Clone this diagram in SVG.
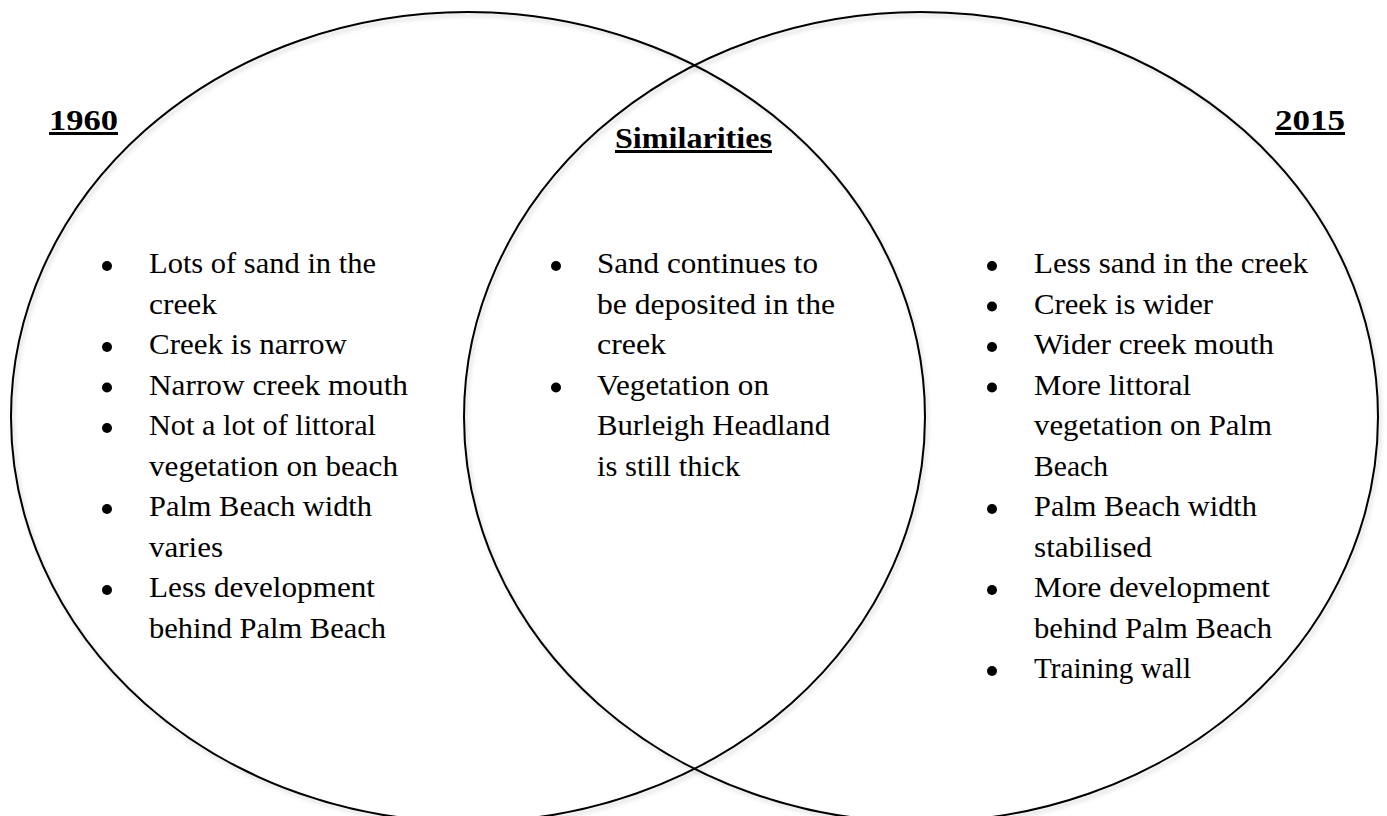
<svg xmlns="http://www.w3.org/2000/svg" width="1387" height="816" viewBox="0 0 1387 816">
  <defs>
    <filter id="shadow" x="-5%" y="-5%" width="110%" height="110%">
      <feDropShadow dx="2" dy="3" stdDeviation="2" flood-color="#000" flood-opacity="0.18"/>
    </filter>
  </defs>
  <style>
    .ring { fill: none; stroke: #000; stroke-width: 2; }
    .item { font-family: "Liberation Serif", "DejaVu Serif", serif; font-size: 30px; fill: #000; }
    .head { font-family: "Liberation Serif", "DejaVu Serif", serif; font-size: 30px; font-weight: bold; fill: #000; text-decoration: underline; }
    .dot { fill: #000; }
  </style>
  <rect width="1387" height="816" fill="#fff"/>

  <g id="circle-1960">
    <ellipse class="ring" cx="468" cy="417" rx="457" ry="405" filter="url(#shadow)"/>
  </g>
  <g id="circle-2015">
    <ellipse class="ring" cx="921" cy="417" rx="457" ry="405" filter="url(#shadow)"/>
  </g>

  <g id="label-1960">
    <text class="head" x="49" y="130" textLength="69" lengthAdjust="spacingAndGlyphs">1960</text>
  </g>
  <g id="label-similarities">
    <text class="head" x="615" y="148" textLength="157" lengthAdjust="spacingAndGlyphs">Similarities</text>
  </g>
  <g id="label-2015">
    <text class="head" x="1275" y="130" textLength="70" lengthAdjust="spacingAndGlyphs">2015</text>
  </g>

  <g id="list-1960">
    <circle class="dot" cx="107" cy="266" r="5"/>
    <circle class="dot" cx="107" cy="347" r="5"/>
    <circle class="dot" cx="107" cy="387.5" r="5"/>
    <circle class="dot" cx="107" cy="428" r="5"/>
    <circle class="dot" cx="107" cy="509" r="5"/>
    <circle class="dot" cx="107" cy="590" r="5"/>
    <text class="item" x="149" y="273" textLength="227" lengthAdjust="spacingAndGlyphs">Lots of sand in the</text>
    <text class="item" x="149" y="313.5" textLength="68" lengthAdjust="spacingAndGlyphs">creek</text>
    <text class="item" x="149" y="354" textLength="198" lengthAdjust="spacingAndGlyphs">Creek is narrow</text>
    <text class="item" x="149" y="394.5" textLength="259" lengthAdjust="spacingAndGlyphs">Narrow creek mouth</text>
    <text class="item" x="149" y="435" textLength="227" lengthAdjust="spacingAndGlyphs">Not a lot of littoral</text>
    <text class="item" x="149" y="475.5" textLength="249" lengthAdjust="spacingAndGlyphs">vegetation on beach</text>
    <text class="item" x="149" y="516" textLength="223" lengthAdjust="spacingAndGlyphs">Palm Beach width</text>
    <text class="item" x="149" y="556.5" textLength="74" lengthAdjust="spacingAndGlyphs">varies</text>
    <text class="item" x="149" y="597" textLength="226" lengthAdjust="spacingAndGlyphs">Less development</text>
    <text class="item" x="149" y="637.5" textLength="237" lengthAdjust="spacingAndGlyphs">behind Palm Beach</text>
  </g>

  <g id="list-similarities">
    <circle class="dot" cx="556" cy="266" r="5"/>
    <circle class="dot" cx="556" cy="387.5" r="5"/>
    <text class="item" x="597" y="273" textLength="221" lengthAdjust="spacingAndGlyphs">Sand continues to</text>
    <text class="item" x="597" y="313.5" textLength="238" lengthAdjust="spacingAndGlyphs">be deposited in the</text>
    <text class="item" x="597" y="354" textLength="69" lengthAdjust="spacingAndGlyphs">creek</text>
    <text class="item" x="597" y="394.5" textLength="172" lengthAdjust="spacingAndGlyphs">Vegetation on</text>
    <text class="item" x="597" y="435" textLength="233" lengthAdjust="spacingAndGlyphs">Burleigh Headland</text>
    <text class="item" x="597" y="475.5" textLength="143" lengthAdjust="spacingAndGlyphs">is still thick</text>
  </g>

  <g id="list-2015">
    <circle class="dot" cx="992" cy="266" r="5"/>
    <circle class="dot" cx="992" cy="306.5" r="5"/>
    <circle class="dot" cx="992" cy="347" r="5"/>
    <circle class="dot" cx="992" cy="387.5" r="5"/>
    <circle class="dot" cx="992" cy="509" r="5"/>
    <circle class="dot" cx="992" cy="590" r="5"/>
    <circle class="dot" cx="992" cy="671" r="5"/>
    <text class="item" x="1034" y="273" textLength="274" lengthAdjust="spacingAndGlyphs">Less sand in the creek</text>
    <text class="item" x="1034" y="313.5" textLength="179" lengthAdjust="spacingAndGlyphs">Creek is wider</text>
    <text class="item" x="1034" y="354" textLength="240" lengthAdjust="spacingAndGlyphs">Wider creek mouth</text>
    <text class="item" x="1034" y="394.5" textLength="157" lengthAdjust="spacingAndGlyphs">More littoral</text>
    <text class="item" x="1034" y="435" textLength="238" lengthAdjust="spacingAndGlyphs">vegetation on Palm</text>
    <text class="item" x="1034" y="475.5" textLength="74" lengthAdjust="spacingAndGlyphs">Beach</text>
    <text class="item" x="1034" y="516" textLength="223" lengthAdjust="spacingAndGlyphs">Palm Beach width</text>
    <text class="item" x="1034" y="556.5" textLength="118" lengthAdjust="spacingAndGlyphs">stabilised</text>
    <text class="item" x="1034" y="597" textLength="236" lengthAdjust="spacingAndGlyphs">More development</text>
    <text class="item" x="1034" y="637.5" textLength="238" lengthAdjust="spacingAndGlyphs">behind Palm Beach</text>
    <text class="item" x="1034" y="678" textLength="157" lengthAdjust="spacingAndGlyphs">Training wall</text>
  </g>
</svg>
